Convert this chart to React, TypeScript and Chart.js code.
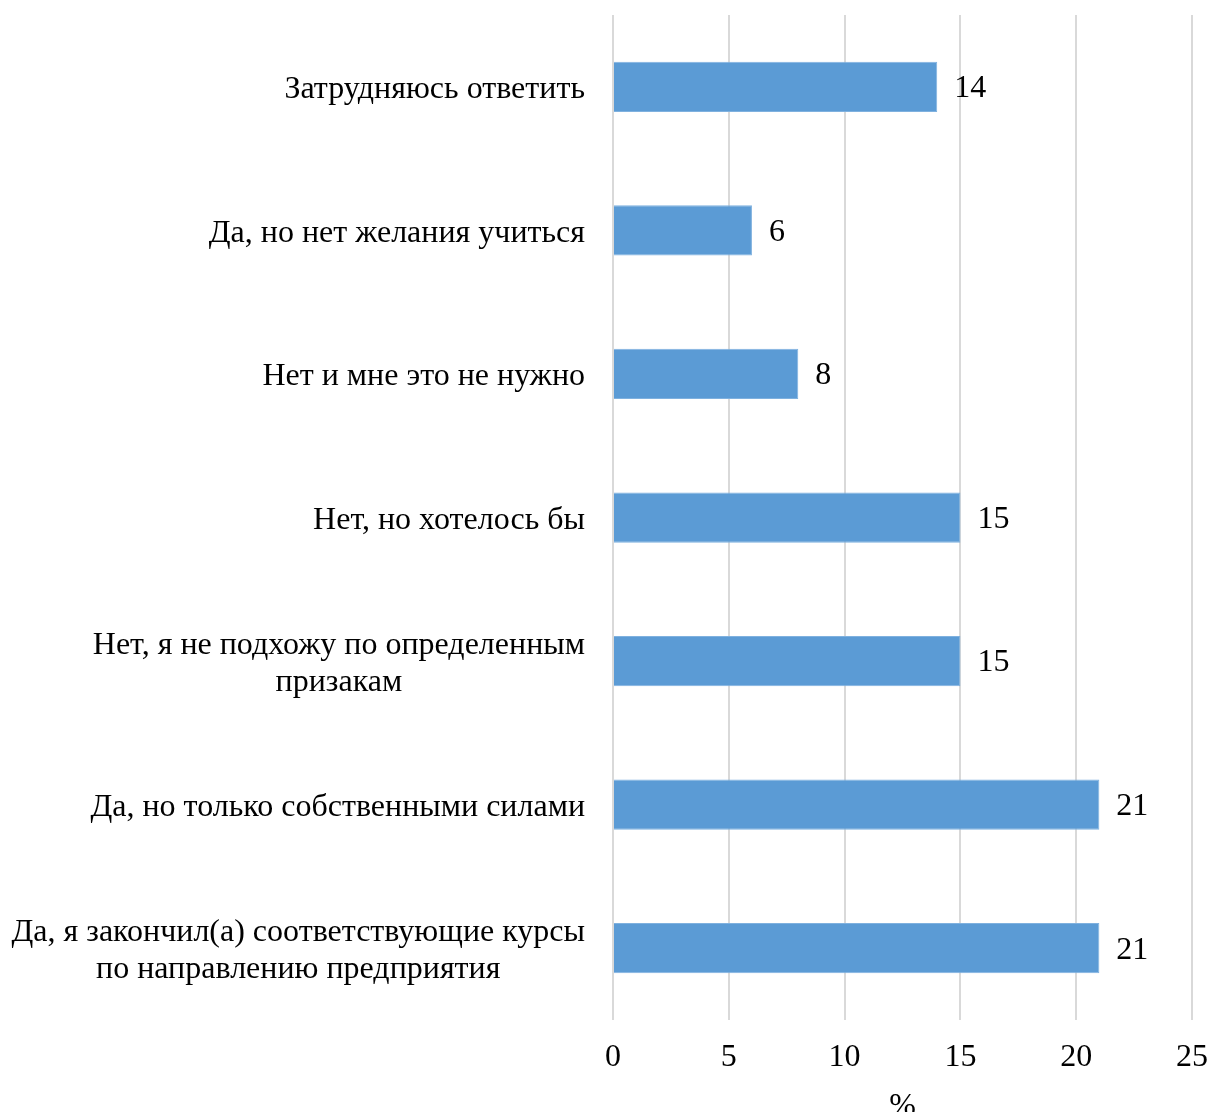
import React, { useEffect, useRef } from "react";
import { Chart, registerables } from "chart.js";

Chart.register(...registerables);

const categories: string[][] = [
  ["Затрудняюсь ответить"],
  ["Да, но нет желания учиться"],
  ["Нет и мне это не нужно"],
  ["Нет, но хотелось бы"],
  ["Нет, я не подхожу по определенным", "призакам"],
  ["Да, но только собственными силами"],
  ["Да, я закончил(а) соответствующие курсы", "по направлению предприятия"],
];
const values: number[] = [14, 6, 8, 15, 15, 21, 21];
const xTicks: number[] = [0, 5, 10, 15, 20, 25];
const axisTitle = "%";

const FONT = "'Liberation Serif', 'Times New Roman', serif";
const FS = 32;

const labelsPlugin = {
  id: "customLabels",
  afterDraw(chart: any) {
    const ctx = chart.ctx;
    const yScale = chart.scales.y;
    const xScale = chart.scales.x;
    const area = chart.chartArea;
    ctx.save();
    ctx.fillStyle = "#000";
    ctx.font = `${FS}px ${FONT}`;
    ctx.textBaseline = "middle";
    const lineH = 37;
    categories.forEach((lines, i) => {
      const cy = yScale.getPixelForValue(i) + 3;
      const widths = lines.map((l) => ctx.measureText(l).width);
      const maxW = Math.max(...widths);
      const right = area.left - 28;
      const centerX = right - maxW / 2;
      ctx.textAlign = "center";
      lines.forEach((l, j) => {
        const y = cy + (j - (lines.length - 1) / 2) * lineH;
        ctx.fillText(l, centerX, y);
      });
    });
    ctx.textAlign = "left";
    values.forEach((v, i) => {
      const cy = yScale.getPixelForValue(i);
      const x = xScale.getPixelForValue(v);
      ctx.fillText(String(v), x + 17, cy + 2);
    });
    ctx.restore();
  },
};

export default function App() {
  const ref = useRef<HTMLCanvasElement | null>(null);
  useEffect(() => {
    document.body.style.margin = "0";
    const canvas = ref.current!;
    const chart = new Chart(canvas, {
      type: "bar",
      data: {
        labels: categories.map((c) => c.join(" ")),
        datasets: [
          {
            data: values,
            backgroundColor: "#5B9BD5",
            borderColor: "#7FB1DF",
            borderWidth: 1,
            barPercentage: 0.35,
            categoryPercentage: 1,
          },
        ],
      },
      options: {
        indexAxis: "y",
        animation: false,
        responsive: false,
        maintainAspectRatio: false,
        layout: { padding: { left: 613, right: 19, top: 15, bottom: 10 } },
        plugins: { legend: { display: false }, tooltip: { enabled: false } },
        scales: {
          x: {
            min: 0,
            max: 25,
            afterBuildTicks: (scale: any) => {
              scale.ticks = xTicks.map((v) => ({ value: v }));
            },
            afterFit: (scale: any) => {
              scale.height = 110;
              scale.paddingRight = 0;
              scale.paddingLeft = 0;
            },
            grid: { color: "#D9D9D9", lineWidth: 2, drawTicks: false },
            border: { display: false },
            ticks: {
              color: "#000",
              font: { family: FONT, size: FS },
              padding: 18,
              maxRotation: 0,
            },
            title: {
              display: true,
              text: axisTitle,
              color: "#000",
              font: { family: FONT, size: FS },
              padding: { top: 0, bottom: 4 },
            },
          },
          y: {
            display: false,
          },
        },
      },
      plugins: [labelsPlugin],
    });
    return () => chart.destroy();
  }, []);
  return (
    <div style={{ position: "absolute", left: 0, top: 0, width: 1211, height: 1140 }}>
      <canvas ref={ref} width={1211} height={1140} style={{ width: 1211, height: 1140 }} />
    </div>
  );
}
